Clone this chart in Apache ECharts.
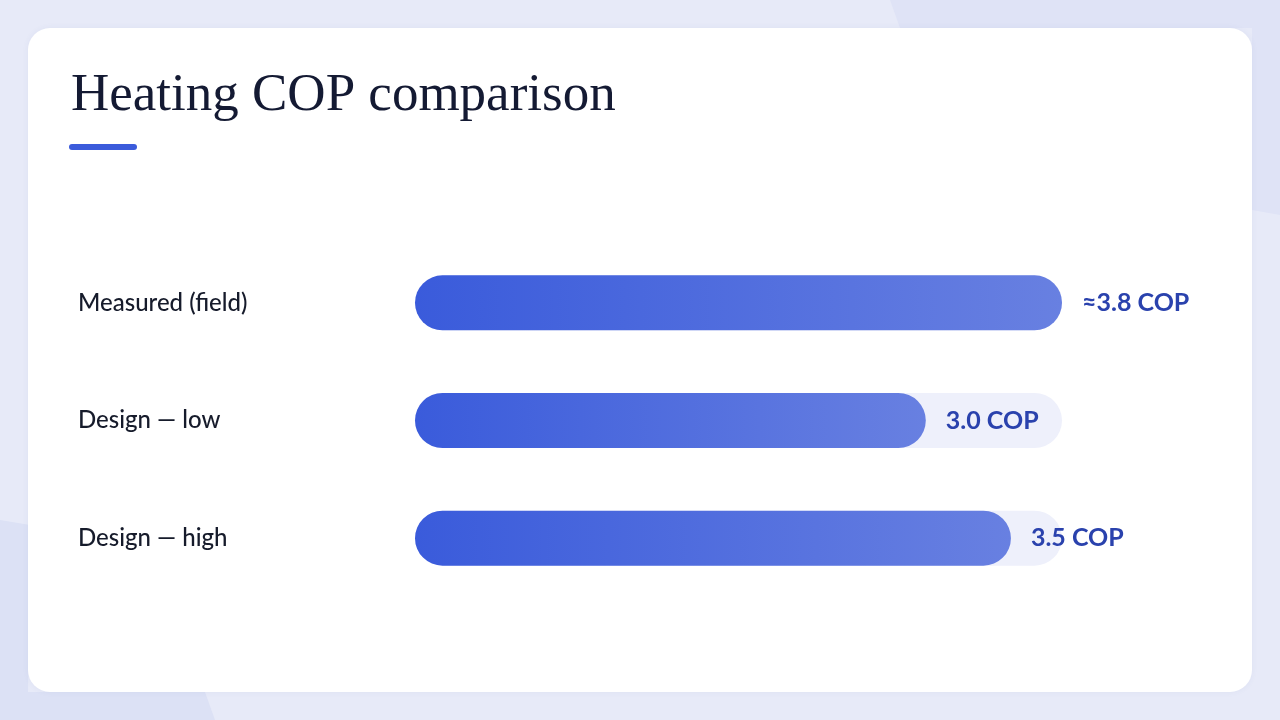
<!DOCTYPE html>
<html>
<head>
<meta charset="utf-8">
<script src="https://cdn.jsdelivr.net/npm/echarts@6/dist/echarts.min.js"></script>
<style>
html,body{margin:0;padding:0;background:#e7eaf8;}
#chart{width:1280px;height:720px;}
</style>
</head>
<body>
<div id="chart"></div>
<script>
const categories = ['Measured (field)', 'Design \u2014 low', 'Design \u2014 high'];
const copValues = [3.8, 3.0, 3.5];
const valueLabels = ['\u22483.8 COP', '3.0 COP', '3.5 COP'];
const scaleMax = 3.8;
const trackValues = categories.map(() => scaleMax);

const chart = echarts.init(document.getElementById('chart'));
const sans = 'Lato, "Noto Sans", sans-serif';

chart.setOption({
  backgroundColor: '#e7eaf8',
  animation: false,
  graphic: [
    { type: 'polygon', z: -10, shape: { points: [[890,0],[1280,0],[1280,215],[1252,210],[1252,28],[900,28]] }, style: { fill: '#dfe3f6' } },
    { type: 'polygon', z: -10, shape: { points: [[0,520],[30,525],[28,692],[205,692],[215,720],[0,720]] }, style: { fill: '#dce1f5' } },
    { type: 'rect', z: -5, shape: { x: 28, y: 28, width: 1224, height: 664, r: 22 }, style: { fill: '#ffffff', shadowBlur: 6, shadowColor: 'rgba(60,80,160,0.06)' } },
    { type: 'rect', z: 5, shape: { x: 69, y: 144, width: 68, height: 6, r: 3 }, style: { fill: '#3b5bdb' } }
  ],
  title: {
    text: 'Heating COP comparison',
    left: 66,
    top: 65,
    textStyle: { fontFamily: '"Liberation Serif", serif', fontWeight: 'normal', fontSize: 53, color: '#141a33' }
  },
  grid: { left: 415, right: 218, top: 244, bottom: 123, containLabel: false },
  xAxis: {
    type: 'value', min: 0, max: scaleMax,
    show: false
  },
  yAxis: {
    type: 'category', data: categories, inverse: true,
    axisLine: { show: false }, axisTick: { show: false }, splitLine: { show: false },
    axisLabel: { align: 'left', margin: 337, padding: [4, 0, 0, 0], fontFamily: sans, fontSize: 24, fontWeight: 500, color: '#161b2b' }
  },
  series: [
    {
      type: 'bar', data: trackValues, barWidth: 55, barGap: '-100%', z: 1, silent: true,
      itemStyle: { color: '#eef0fb', borderRadius: 27.5 }
    },
    {
      type: 'bar', data: copValues, barWidth: 55, z: 2,
      itemStyle: {
        borderRadius: 27.5,
        color: new echarts.graphic.LinearGradient(0, 0, 1, 0, [
          { offset: 0, color: '#3a5bdb' },
          { offset: 1, color: '#6880e1' }
        ])
      },
      label: {
        show: true, position: 'right', distance: 20, padding: [4, 0, 0, 0],
        formatter: p => valueLabels[p.dataIndex],
        fontFamily: sans, fontSize: 25, fontWeight: 'bold', color: '#2a42ad'
      }
    }
  ]
});
</script>
</body>
</html>
